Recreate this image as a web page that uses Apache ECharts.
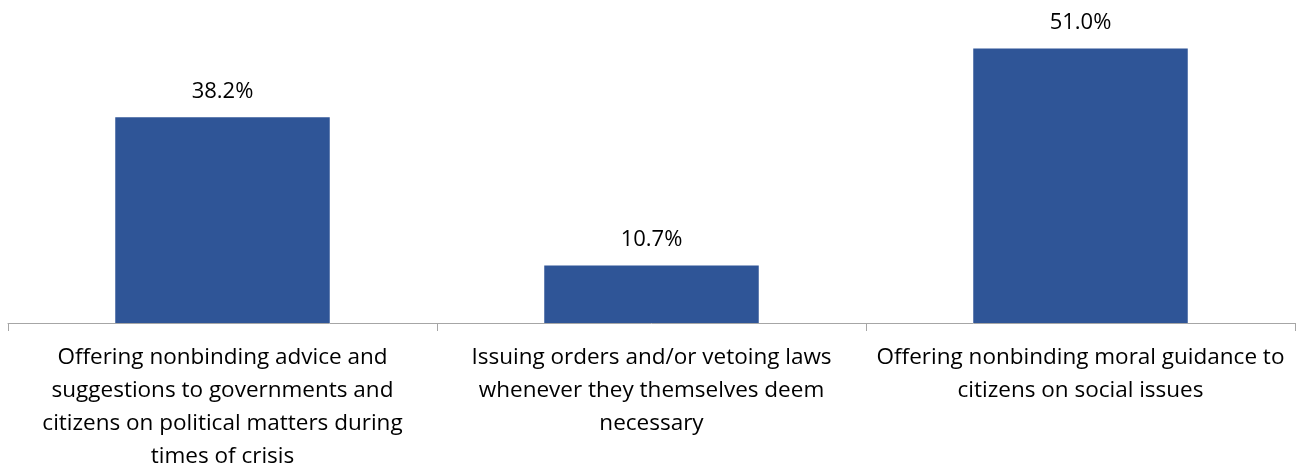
<!DOCTYPE html>
<html><head><meta charset="utf-8">
<script src="https://cdn.jsdelivr.net/npm/echarts@6/dist/echarts.min.js"></script>
<style>html,body{margin:0;padding:0;background:#fff}#c{width:1305px;height:473px}</style>
</head><body><div id="c"></div>
<script>
const categories = [
  "Offering nonbinding advice and\nsuggestions to governments and\ncitizens on political matters during\ntimes of crisis",
  "Issuing orders and/or vetoing laws\nwhenever they themselves deem\nnecessary",
  "Offering nonbinding moral guidance to\ncitizens on social issues"
];
const values = [38.2, 10.7, 51.0];

const chart = echarts.init(document.getElementById('c'));
const font = '"Open Sans", sans-serif';
chart.setOption({
  animation: false,
  grid: {left: 8, right: 10, top: 0, bottom: 147, containLabel: false},
  xAxis: {
    type: 'category', data: categories,
    axisLine: {lineStyle: {color: '#a6a6a6', width: 1}},
    axisTick: {show: true, length: 8, alignWithLabel: false, lineStyle: {color: '#a6a6a6'}},
    axisLabel: {interval: 0, color: '#000', fontSize: 22.5, fontFamily: font, lineHeight: 33, margin: 18}
  },
  yAxis: {type: 'value', min: 0, max: 60, show: false, splitLine: {show: false}},
  series: [{
    type: 'bar', data: values, barWidth: '50%',
    itemStyle: {color: '#2F5597'},
    label: {show: true, position: 'top', distance: 15, color: '#000', fontSize: 22, fontFamily: font,
      formatter: p => p.value.toFixed(1) + '%'}
  }]
});
</script></body></html>
